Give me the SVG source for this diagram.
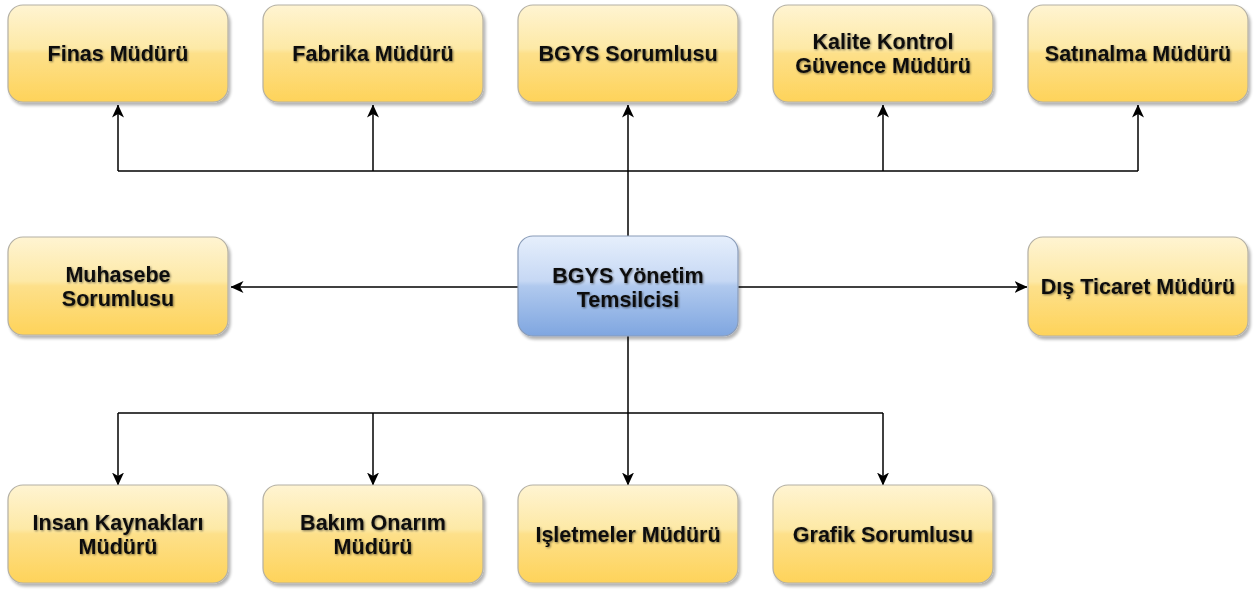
<svg xmlns="http://www.w3.org/2000/svg" width="1258" height="593" viewBox="0 0 1258 593">
<defs>
<linearGradient id="gy" x1="0" y1="0" x2="0" y2="1">
<stop offset="0" stop-color="#fff4d2"/>
<stop offset="0.45" stop-color="#fde9a6"/>
<stop offset="0.5" stop-color="#fde08a"/>
<stop offset="1" stop-color="#fed35a"/>
</linearGradient>
<linearGradient id="gb" x1="0" y1="0" x2="0" y2="1">
<stop offset="0" stop-color="#e6effc"/>
<stop offset="0.45" stop-color="#c6d8f4"/>
<stop offset="0.5" stop-color="#b0c9ee"/>
<stop offset="1" stop-color="#7fa6e0"/>
</linearGradient>
<filter id="sh" x="-10%" y="-10%" width="125%" height="130%">
<feGaussianBlur in="SourceAlpha" stdDeviation="1.5"/>
<feOffset dx="2" dy="3" result="b"/>
<feComponentTransfer><feFuncA type="linear" slope="0.3"/></feComponentTransfer>
<feMerge><feMergeNode/><feMergeNode in="SourceGraphic"/></feMerge>
</filter>
<filter id="ts" x="-5%" y="-20%" width="110%" height="140%">
<feGaussianBlur in="SourceAlpha" stdDeviation="0.8"/>
<feOffset dx="0.5" dy="0.8"/>
<feComponentTransfer><feFuncA type="linear" slope="0.5"/></feComponentTransfer>
<feMerge><feMergeNode/><feMergeNode in="SourceGraphic"/></feMerge>
</filter>
<marker id="ar" viewBox="0 0 13 12" refX="12.5" refY="6" markerWidth="13" markerHeight="12" markerUnits="userSpaceOnUse" orient="auto">
<path d="M0,0 L13,6 L0,12 L3.5,6 Z" fill="#000"/>
</marker>
</defs>
<style>
.y{fill:url(#gy);stroke:#b4b0a4;stroke-width:1.2;filter:url(#sh)}
.b{fill:url(#gb);stroke:#8a9cb8;stroke-width:1.2;filter:url(#sh)}
text{font-family:"Liberation Sans",Arial,Helvetica,sans-serif;font-weight:bold;font-size:21.5px;fill:#111;text-anchor:middle;filter:url(#ts)}
.c path{fill:none;stroke:#000;stroke-width:1.5}
</style>
<g class="c" id="connectors">
<path d="M628,236 V171"/>
<path d="M628,171 V105" marker-end="url(#ar)"/>
<path d="M118,171 H1138"/>
<path d="M118,171 V105" marker-end="url(#ar)"/>
<path d="M373,171 V105" marker-end="url(#ar)"/>
<path d="M883,171 V105" marker-end="url(#ar)"/>
<path d="M1138,171 V105" marker-end="url(#ar)"/>
<path d="M518,287 H231" marker-end="url(#ar)"/>
<path d="M738,287 H1027" marker-end="url(#ar)"/>
<path d="M628,336 V413"/>
<path d="M118,413 H883"/>
<path d="M118,413 V485" marker-end="url(#ar)"/>
<path d="M373,413 V485" marker-end="url(#ar)"/>
<path d="M628,413 V485" marker-end="url(#ar)"/>
<path d="M883,413 V485" marker-end="url(#ar)"/>
</g>
<g id="finas"><rect class="y" x="8" y="5" width="220" height="97" rx="15"/><text x="118" y="61">Finas Müdürü</text></g>
<g id="fabrika"><rect class="y" x="263" y="5" width="220" height="97" rx="15"/><text x="373" y="61">Fabrika Müdürü</text></g>
<g id="bgys-sorumlusu"><rect class="y" x="518" y="5" width="220" height="97" rx="15"/><text x="628" y="61">BGYS Sorumlusu</text></g>
<g id="kalite"><rect class="y" x="773" y="5" width="220" height="97" rx="15"/><text x="883" y="49">Kalite Kontrol</text><text x="883" y="73">Güvence Müdürü</text></g>
<g id="satinalma"><rect class="y" x="1028" y="5" width="220" height="97" rx="15"/><text x="1138" y="61">Satınalma Müdürü</text></g>
<g id="muhasebe"><rect class="y" x="8" y="237" width="220" height="98" rx="15"/><text x="118" y="282">Muhasebe</text><text x="118" y="306">Sorumlusu</text></g>
<g id="bgys-yonetim"><rect class="b" x="518" y="236" width="220" height="100" rx="15"/><text x="628" y="283">BGYS Yönetim</text><text x="628" y="307">Temsilcisi</text></g>
<g id="dis-ticaret"><rect class="y" x="1028" y="237" width="220" height="99" rx="15"/><text x="1138" y="294">Dış Ticaret Müdürü</text></g>
<g id="insan"><rect class="y" x="8" y="485" width="220" height="98" rx="15"/><text x="118" y="530">Insan Kaynakları</text><text x="118" y="554">Müdürü</text></g>
<g id="bakim"><rect class="y" x="263" y="485" width="220" height="98" rx="15"/><text x="373" y="530">Bakım Onarım</text><text x="373" y="554">Müdürü</text></g>
<g id="isletmeler"><rect class="y" x="518" y="485" width="220" height="98" rx="15"/><text x="628" y="542">Işletmeler Müdürü</text></g>
<g id="grafik"><rect class="y" x="773" y="485" width="220" height="98" rx="15"/><text x="883" y="542">Grafik Sorumlusu</text></g>
</svg>
